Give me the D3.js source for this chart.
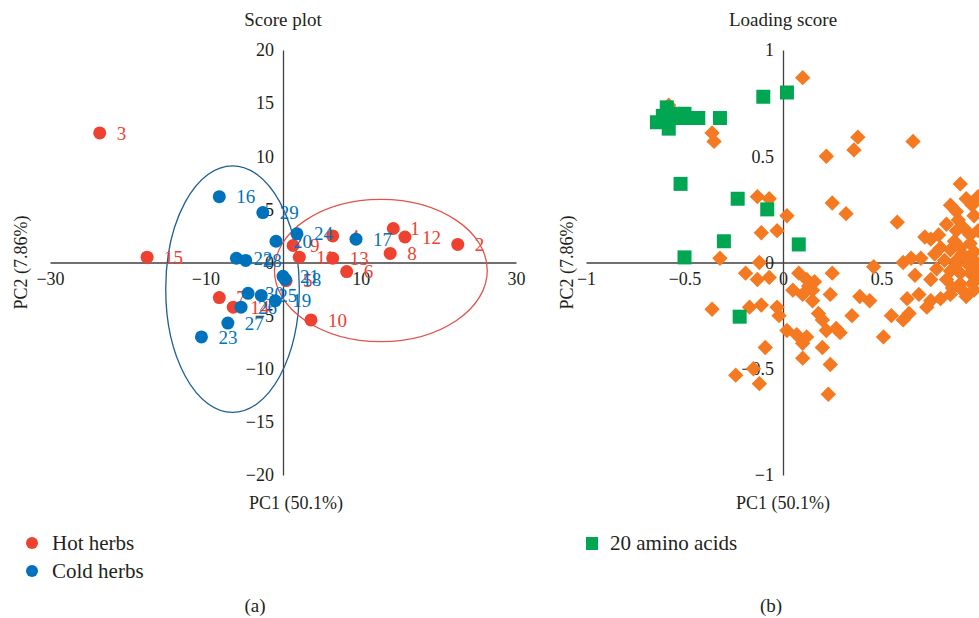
<!DOCTYPE html>
<html lang='en'>
  <head>
    <meta charset='utf-8'>
    <title>Score plot and loading score</title>
    <script type='text/javascript' src='https://cdn.jsdelivr.net/npm/d3@7'></script>
    <style type='text/css'>
    body{
      margin: 0;
      background: white;
    }
    text{
      font-family: 'Liberation Serif', 'DejaVu Serif', serif;
      fill: #231f20;
    }
    .axis path,
    .axis line{
      fill: none;
      stroke: #404040;
      stroke-width: 1.3px;
    }
    .axis text{
      font-size: 18px;
      fill: #231f20;
    }
    </style>
  </head>
  <body>
    <script type='text/javascript'>

    var w = 979;
    var h = 618;

    // score plot: herb number, PC1, PC2
    var hotIds = [1, 2, 3, 4, 5, 6, 7, 8, 9, 10, 11, 12, 13, 14, 15];
    var hotPC1 = [14.2, 22.5, -23.6, 6.4, 0.4, 8.2, -8.2, 13.8, 1.3, 3.6, 2.1, 15.7, 6.4, -6.4, -17.5];
    var hotPC2 = [3.2, 1.7, 12.2, 2.5, -1.7, -0.85, -3.3, 0.85, 1.6, -5.4, 0.5, 2.4, 0.4, -4.2, 0.5];

    var coldIds = [16, 17, 18, 19, 20, 21, 22, 23, 24, 25, 26, 27, 28, 29, 30];
    var coldPC1 = [-8.2, 9.4, 0.3, -1.0, -0.9, 0.0, -6.0, -10.5, 1.8, -2.8, -5.4, -7.1, -4.8, -2.6, -4.5];
    var coldPC2 = [6.2, 2.2, -1.6, -3.6, 2.0, -1.3, 0.4, -7.0, 2.7, -3.1, -4.2, -5.7, 0.2, 4.7, -2.9];

    // group ellipses: centre x, centre y, radius x, radius y
    var coldEllipse = [-6.5, -2.5, 8.6, 11.6];
    var hotEllipse = [12.6, -0.75, 13.7, 6.7];

    // loading plot
    var aminoX = [-0.59, -0.64, -0.58, -0.54, -0.50, -0.46, -0.43, -0.32, -0.10, 0.02,
                  -0.52, -0.23, -0.08, -0.30, 0.08, -0.50, -0.22, -0.57, -0.52, -0.61];
    var aminoY = [0.73, 0.66, 0.63, 0.69, 0.70, 0.68, 0.68, 0.68, 0.78, 0.80,
                  0.37, 0.30, 0.25, 0.10, 0.085, 0.024, -0.255, 0.70, 0.68, 0.69];

    var otherX = [0.10, -0.58, -0.36, -0.35, 0.38, 0.36, 0.22, 0.66, -0.13, -0.07,
                  0.02, 0.25, 0.32, -0.11, -0.03, -0.32, -0.12, -0.19, -0.13, -0.07,
                  -0.36, -0.17, -0.11, 0.08, 0.12, 0.16, 0.25, 0.24, 0.05, 0.10,
                  0.15, -0.03, -0.02, 0.02, 0.07, 0.12, 0.10, 0.18, 0.20, 0.22,
                  0.27, 0.29, 0.20, -0.09, 0.10, 0.24, -0.24, -0.12, -0.15, 0.23,
                  0.35, 0.39, 0.44, 0.46, 0.13, 0.15, 0.90, 0.93, 0.85, 0.88,
                  0.58, 0.88, 0.95, 0.75, 0.80, 0.85, 0.90, 0.95, 0.82, 0.88,
                  0.93, 0.97, 0.65, 0.61, 0.67, 0.85, 0.90, 0.95, 0.83, 0.90,
                  0.96, 0.63, 0.69, 0.75, 0.80, 0.85, 0.91, 0.55, 0.64, 0.61,
                  0.51, 0.73, 0.97, 0.99, 0.97, 0.72, 0.77, 0.83, 0.87, 0.92,
                  0.97, 0.99, 0.78, 0.86, 0.93, 0.98, 0.75, 0.89, 0.96, 0.99,
                  0.70, 0.88, 0.94, 0.91, 0.79];
    var otherY = [0.87, 0.74, 0.61, 0.57, 0.59, 0.53, 0.50, 0.57, 0.31, 0.30,
                  0.22, 0.28, 0.23, 0.14, 0.15, 0.02, 0.00, -0.05, -0.08, -0.07,
                  -0.22, -0.21, -0.20, -0.05, -0.08, -0.09, -0.05, -0.15, -0.13, -0.15,
                  -0.18, -0.21, -0.25, -0.32, -0.34, -0.35, -0.38, -0.24, -0.27, -0.32,
                  -0.31, -0.33, -0.40, -0.40, -0.45, -0.48, -0.53, -0.57, -0.50, -0.62,
                  -0.25, -0.16, -0.18, -0.02, -0.11, -0.13, 0.37, 0.30, 0.27, 0.24,
                  0.19, 0.15, 0.13, 0.11, 0.07, 0.06, 0.07, 0.09, 0.01, 0.01,
                  0.02, 0.01, 0.02, 0.00, -0.06, -0.04, -0.05, -0.05, -0.08, -0.10,
                  -0.10, -0.17, -0.15, -0.18, -0.17, -0.15, -0.13, -0.25, -0.24, -0.27,
                  -0.35, -0.21, 0.22, 0.15, -0.13, 0.12, 0.04, 0.18, 0.10, 0.16,
                  0.05, -0.02, -0.03, -0.12, -0.16, -0.08, -0.08, 0.20, 0.27, 0.31,
                  0.02, -0.01, -0.01, 0.04, 0.13];

    var scoreTicksX = [-30, -10, 10, 30];
    var scoreTicksY = [20, 15, 10, 5, 0, -5, -10, -15, -20];
    var loadTicksX = [-1, -0.5, 0, 0.5, 1];
    var loadTicksY = [1, 0.5, 0, -0.5, -1];

    var hotColor = '#ee4130';
    var coldColor = '#0072bc';
    var aminoColor = '#00a651';
    var otherColor = '#f47920';

    var svg = d3.select('body')
                .append('svg')
                .attr('width', w)
                .attr('height', h);

    // ---- score plot ----
    var xScale = d3.scaleLinear()
                   .domain([-30, 30])
                   .range([50, 516]);
    var yScale = d3.scaleLinear()
                   .domain([-20, 20])
                   .range([475, 50]);

    var xAxis = d3.axisBottom(xScale)
                  .tickValues(scoreTicksX)
                  .tickSize(0)
                  .tickPadding(10);
    var yAxis = d3.axisLeft(yScale)
                  .tickValues(scoreTicksY)
                  .tickSize(0)
                  .tickPadding(9);

    svg.append('g')
       .attr('class', 'x axis')
       .attr('transform', 'translate(0,' + yScale(0) + ')')
       .call(xAxis);

    svg.append('g')
       .attr('class', 'y axis')
       .attr('transform', 'translate(' + xScale(0) + ',0)')
       .call(yAxis);

    function drawEllipse(e, color){
      svg.append('ellipse')
         .attr('cx', xScale(e[0]))
         .attr('cy', yScale(e[1]))
         .attr('rx', xScale(e[2]) - xScale(0))
         .attr('ry', yScale(0) - yScale(e[3]))
         .attr('fill', 'none')
         .attr('stroke', color)
         .attr('stroke-width', 1.3);
    }
    drawEllipse(coldEllipse, '#1d5f8f');
    drawEllipse(hotEllipse, '#e2534a');

    function drawGroup(ids, xs, ys, color){
      var data = ids.map(function(d, i){ return [d, xs[i], ys[i]]; });
      var g = svg.append('g');
      g.selectAll('circle')
       .data(data)
       .enter()
       .append('circle')
       .attr('cx', function(d){ return xScale(d[1]); })
       .attr('cy', function(d){ return yScale(d[2]); })
       .attr('r', 6.5)
       .attr('fill', color);
      g.selectAll('text')
       .data(data)
       .enter()
       .append('text')
       .text(function(d){ return d[0]; })
       .attr('x', function(d){ return xScale(d[1]) + 17; })
       .attr('y', function(d){ return yScale(d[2]); })
       .attr('dy', '0.35em')
       .attr('font-size', '19px')
       .style('fill', color);
    }
    drawGroup(hotIds, hotPC1, hotPC2, hotColor);
    drawGroup(coldIds, coldPC1, coldPC2, coldColor);

    svg.append('text')
       .attr('x', xScale(0))
       .attr('y', 26)
       .attr('text-anchor', 'middle')
       .attr('font-size', '19px')
       .text('Score plot');

    svg.append('text')
       .attr('x', xScale(0) + 13)
       .attr('y', 509)
       .attr('text-anchor', 'middle')
       .attr('font-size', '18px')
       .text('PC1 (50.1%)');

    svg.append('text')
       .attr('transform', 'translate(27,' + yScale(0) + ') rotate(-90)')
       .attr('text-anchor', 'middle')
       .attr('font-size', '18px')
       .text('PC2 (7.86%)');

    // ---- loading plot ----
    var x2 = d3.scaleLinear()
               .domain([-1, 1])
               .range([586, 980]);
    var y2 = d3.scaleLinear()
               .domain([-1, 1])
               .range([475, 50]);

    svg.append('g')
       .attr('class', 'x axis')
       .attr('transform', 'translate(0,' + y2(0) + ')')
       .call(d3.axisBottom(x2).tickValues(loadTicksX).tickFormat(d3.format('')).tickSize(0).tickPadding(10));

    svg.append('g')
       .attr('class', 'y axis')
       .attr('transform', 'translate(' + x2(0) + ',0)')
       .call(d3.axisLeft(y2).tickValues(loadTicksY).tickFormat(d3.format('')).tickSize(0).tickPadding(9));

    var others = otherX.map(function(d, i){ return [d, otherY[i]]; });
    svg.append('g')
       .selectAll('path')
       .data(others)
       .enter()
       .append('path')
       .attr('d', d3.symbol().type(d3.symbolSquare).size(118))
       .attr('transform', function(d){
         return 'translate(' + x2(d[0]) + ',' + y2(d[1]) + ') rotate(45)';
       })
       .attr('fill', otherColor);

    var amino = aminoX.map(function(d, i){ return [d, aminoY[i]]; });
    svg.append('g')
       .selectAll('rect')
       .data(amino)
       .enter()
       .append('rect')
       .attr('x', function(d){ return x2(d[0]) - 7; })
       .attr('y', function(d){ return y2(d[1]) - 7; })
       .attr('width', 14)
       .attr('height', 14)
       .attr('fill', aminoColor);

    svg.append('text')
       .attr('x', x2(0))
       .attr('y', 26)
       .attr('text-anchor', 'middle')
       .attr('font-size', '19px')
       .text('Loading score');

    svg.append('text')
       .attr('x', x2(0))
       .attr('y', 509)
       .attr('text-anchor', 'middle')
       .attr('font-size', '18px')
       .text('PC1 (50.1%)');

    svg.append('text')
       .attr('transform', 'translate(573,' + y2(0) + ') rotate(-90)')
       .attr('text-anchor', 'middle')
       .attr('font-size', '18px')
       .text('PC2 (7.86%)');

    // ---- legends ----
    svg.append('circle').attr('cx', 32).attr('cy', 543).attr('r', 6).attr('fill', hotColor);
    svg.append('text').attr('x', 52).attr('y', 550).attr('font-size', '21px').text('Hot herbs');
    svg.append('circle').attr('cx', 32).attr('cy', 571).attr('r', 6).attr('fill', coldColor);
    svg.append('text').attr('x', 52).attr('y', 578).attr('font-size', '21px').text('Cold herbs');

    svg.append('rect').attr('x', 586).attr('y', 537).attr('width', 12).attr('height', 13).attr('fill', aminoColor);
    svg.append('text').attr('x', 610).attr('y', 550).attr('font-size', '21px').text('20 amino acids');

    svg.append('text').attr('x', 255).attr('y', 612).attr('text-anchor', 'middle').attr('font-size', '19px').text('(a)');
    svg.append('text').attr('x', 771).attr('y', 612).attr('text-anchor', 'middle').attr('font-size', '19px').text('(b)');

    </script>
  </body>
</html>
